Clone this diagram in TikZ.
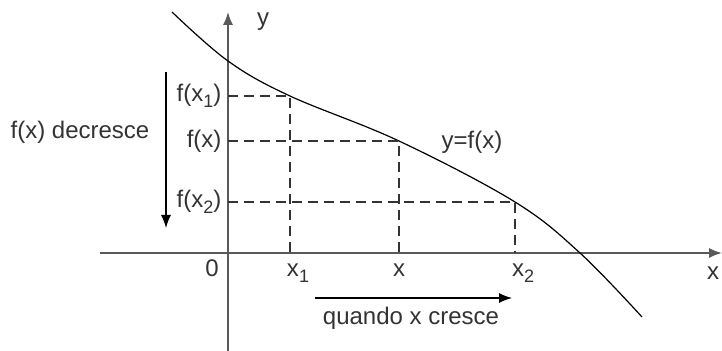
\documentclass[tikz,border=0pt]{standalone}
\usepackage{fontspec}
\setmainfont{Liberation Sans}
\usetikzlibrary{arrows.meta}
\newcommand{\low}[1]{\raisebox{-0.5ex}{\small #1}}

\begin{document}
\begin{tikzpicture}[x=0.5pt, y=-0.5pt, semithick, >={Latex[length=6.5pt, width=5pt]},
    axis/.style  = {black!65, thick},
    guide/.style = {black!80, dash pattern=on 5pt off 3pt},
    every node/.style = {text=black!80, font=\fontsize{12}{14}\selectfont}]
    \useasboundingbox (0,0) rectangle (722,351);
    % axes
    \coordinate (O)   at (228,253);
    \coordinate (xlo) at (100,253);
    \coordinate (xhi) at (722,253);
    \coordinate (ylo) at (228,351);
    \coordinate (yhi) at (228,12);
    \draw[axis, ->] (xlo) -- (xhi);
    \draw[axis, ->] (ylo) -- (yhi);
    \node (ylab) at (263,22) {y};
    \node (xlab) at (713,273) {x};
    \node (zero) at (212,268) {0};
    % the curve
    \coordinate (P1) at (290,96);
    \coordinate (P)  at (399,141);
    \coordinate (P2) at (515,202);
    \draw[black] plot[smooth, tension=0.6] coordinates
      {(172,12) (228,61) (P1) (P) (P2) (580,253) (642,317)};
    \node (curve) at (472,142) {y=f(x)};
    % dashed guides
    \draw[guide] (O |- P1) -- (P1) -- (P1 |- O);
    \draw[guide] (O |- P)  -- (P)  -- (P |- O);
    \draw[guide] (O |- P2) -- (P2) -- (P2 |- O);
    \node[left, inner sep=3pt] (fx1) at (O |- P1) {f(x\low{1})};
    \node[left, inner sep=3pt] (fx)  at (O |- P)  {f(x)};
    \node[left, inner sep=3pt] (fx2) at (O |- P2) {f(x\low{2})};
    \node[below, inner sep=5pt, xshift=4pt] (x1) at (P1 |- O) {x\low{1}};
    \node[below, inner sep=5pt] (x)  at (P |- O)  {x};
    \node[below, inner sep=5pt, xshift=4pt] (x2) at (P2 |- O) {x\low{2}};
    % what happens
    \coordinate (dtop) at (166,72);
    \coordinate (dbot) at (166,228);
    \draw[black, ->] (dtop) -- (dbot);
    \node (decr) at (80,132) {f(x) decresce};
    \coordinate (rleft)  at (315,298);
    \coordinate (rright) at (512,298);
    \draw[black, ->] (rleft) -- (rright);
    \node (cresc) at (411,318) {quando x cresce};
\end{tikzpicture}
\end{document}
